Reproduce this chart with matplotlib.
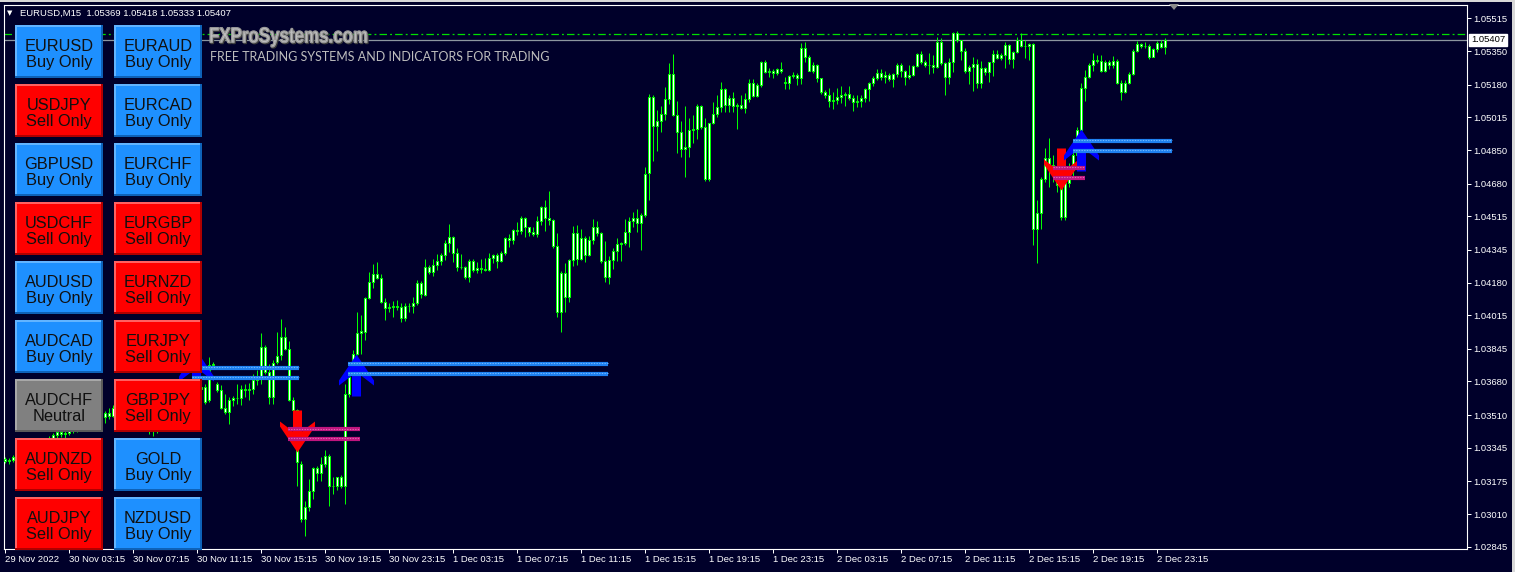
import numpy as np
import matplotlib.pyplot as plt
from matplotlib.patches import Rectangle, Polygon, PathPatch
from matplotlib.path import Path
from matplotlib.textpath import TextPath
from matplotlib.font_manager import FontProperties
from matplotlib.transforms import Affine2D

plt.rcParams['font.family'] = ['Liberation Sans', 'DejaVu Sans']

# EURUSD M15, bar 0 = 29 Nov 2022 23:15
opens = [
    1.03290, 1.03280, 1.03285, 1.03300, 1.03320, 1.03335, 1.03320, 1.03330, 1.03355, 1.03370,
    1.03360, 1.03380, 1.03395, 1.03410, 1.03425, 1.03415, 1.03420, 1.03440, 1.03430, 1.03460,
    1.03480, 1.03470, 1.03500, 1.03490, 1.03510, 1.03500, 1.03520, 1.03505, 1.03545, 1.03530,
    1.03515, 1.03525, 1.03500, 1.03485, 1.03470, 1.03455, 1.03445, 1.03430, 1.03440, 1.03460,
    1.03475, 1.03500, 1.03520, 1.03540, 1.03555, 1.03575, 1.03590, 1.03605, 1.03620, 1.03640,
    1.03652, 1.03585, 1.03762, 1.03669, 1.03635, 1.03547, 1.03525, 1.03588, 1.03595, 1.03598,
    1.03644, 1.03637, 1.03640, 1.03686, 1.03694, 1.03855, 1.03728, 1.03601, 1.03779, 1.03813,
    1.03906, 1.03846, 1.03585, 1.03534, 1.03263, 1.02985, 1.03047, 1.03128, 1.03243, 1.03220,
    1.03263, 1.03301, 1.03154, 1.03150, 1.03196, 1.03152, 1.03618, 1.03703, 1.03821, 1.03923,
    1.03931, 1.04100, 1.04181, 1.04223, 1.04203, 1.04080, 1.04051, 1.04056, 1.04064, 1.04058,
    1.03999, 1.04061, 1.04064, 1.04075, 1.04179, 1.04117, 1.04257, 1.04234, 1.04267, 1.04288,
    1.04318, 1.04378, 1.04409, 1.04331, 1.04261, 1.04261, 1.04210, 1.04289, 1.04244, 1.04255,
    1.04247, 1.04244, 1.04303, 1.04318, 1.04291, 1.04328, 1.04405, 1.04395, 1.04444, 1.04441,
    1.04505, 1.04459, 1.04436, 1.04426, 1.04490, 1.04562, 1.04506, 1.04495, 1.04367, 1.04033,
    1.04227, 1.04105, 1.04294, 1.04429, 1.04299, 1.04404, 1.04320, 1.04394, 1.04459, 1.04429,
    1.04289, 1.04210, 1.04294, 1.04340, 1.04373, 1.04380, 1.04434, 1.04490, 1.04505, 1.04480,
    1.04520, 1.04732, 1.05117, 1.04973, 1.04999, 1.05031, 1.05106, 1.05233, 1.05027, 1.04943,
    1.04854, 1.04867, 1.04951, 1.04955, 1.05074, 1.04968, 1.04702, 1.04985, 1.05031, 1.05066,
    1.05157, 1.05079, 1.05111, 1.05074, 1.05078, 1.05064, 1.05106, 1.05187, 1.05125, 1.05179,
    1.05293, 1.05246, 1.05248, 1.05239, 1.05260, 1.05196, 1.05191, 1.05224, 1.05229, 1.05213,
    1.05364, 1.05322, 1.05251, 1.05280, 1.05213, 1.05145, 1.05127, 1.05098, 1.05103, 1.05118,
    1.05127, 1.05132, 1.05115, 1.05095, 1.05096, 1.05111, 1.05157, 1.05187, 1.05213, 1.05240,
    1.05218, 1.05228, 1.05208, 1.05235, 1.05278, 1.05248, 1.05221, 1.05231, 1.05275, 1.05336,
    1.05293, 1.05278, 1.05280, 1.05272, 1.05395, 1.05288, 1.05221, 1.05297, 1.05443, 1.05406,
    1.05352, 1.05251, 1.05268, 1.05283, 1.05191, 1.05263, 1.05243, 1.05293, 1.05336, 1.05317,
    1.05329, 1.05379, 1.05309, 1.05346, 1.05406, 1.05376, 1.05374, 1.05384, 1.04449, 1.04530,
    1.04702, 1.04808, 1.04774, 1.04753, 1.04673, 1.04513, 1.04682, 1.04749, 1.04825, 1.04951,
    1.05162, 1.05221, 1.05278, 1.05304, 1.05302, 1.05251, 1.05295, 1.05282, 1.05302, 1.05191,
    1.05145, 1.05187, 1.05233, 1.05352, 1.05384, 1.05374, 1.05378, 1.05322, 1.05359, 1.05393,
    1.05369,
]
highs = [
    1.03300, 1.03295, 1.03310, 1.03330, 1.03345, 1.03350, 1.03340, 1.03365, 1.03380, 1.03390,
    1.03385, 1.03405, 1.03420, 1.03440, 1.03445, 1.03435, 1.03450, 1.03460, 1.03470, 1.03490,
    1.03500, 1.03510, 1.03525, 1.03520, 1.03535, 1.03530, 1.03545, 1.03560, 1.03570, 1.03550,
    1.03540, 1.03545, 1.03520, 1.03505, 1.03490, 1.03475, 1.03465, 1.03450, 1.03470, 1.03490,
    1.03510, 1.03530, 1.03555, 1.03570, 1.03590, 1.03610, 1.03625, 1.03640, 1.03660, 1.03670,
    1.03669, 1.03804, 1.03779, 1.03677, 1.03661, 1.03615, 1.03601, 1.03605, 1.03669, 1.03661,
    1.03669, 1.03672, 1.03720, 1.03737, 1.03923, 1.03863, 1.03770, 1.03787, 1.03931, 1.03994,
    1.03953, 1.03885, 1.03601, 1.03540, 1.03280, 1.03078, 1.03187, 1.03250, 1.03255, 1.03297,
    1.03334, 1.03311, 1.03196, 1.03199, 1.03206, 1.03669, 1.03753, 1.03838, 1.04032, 1.04016,
    1.04108, 1.04235, 1.04274, 1.04286, 1.04223, 1.04100, 1.04075, 1.04088, 1.04092, 1.04075,
    1.04075, 1.04078, 1.04108, 1.04193, 1.04190, 1.04299, 1.04269, 1.04299, 1.04325, 1.04331,
    1.04395, 1.04476, 1.04416, 1.04353, 1.04325, 1.04264, 1.04298, 1.04298, 1.04286, 1.04298,
    1.04303, 1.04328, 1.04325, 1.04328, 1.04341, 1.04412, 1.04426, 1.04449, 1.04488, 1.04517,
    1.04510, 1.04463, 1.04463, 1.04517, 1.04569, 1.04598, 1.04645, 1.04500, 1.04429, 1.04240,
    1.04281, 1.04298, 1.04466, 1.04471, 1.04449, 1.04416, 1.04416, 1.04500, 1.04493, 1.04437,
    1.04390, 1.04314, 1.04353, 1.04404, 1.04387, 1.04500, 1.04510, 1.04539, 1.04550, 1.04530,
    1.04766, 1.05133, 1.05128, 1.05053, 1.05073, 1.05167, 1.05292, 1.05336, 1.05098, 1.04997,
    1.05073, 1.05010, 1.05027, 1.05083, 1.05079, 1.05010, 1.04988, 1.05095, 1.05128, 1.05196,
    1.05162, 1.05128, 1.05145, 1.05090, 1.05128, 1.05140, 1.05207, 1.05207, 1.05187, 1.05302,
    1.05305, 1.05263, 1.05260, 1.05265, 1.05293, 1.05221, 1.05229, 1.05246, 1.05241, 1.05390,
    1.05395, 1.05331, 1.05297, 1.05285, 1.05215, 1.05154, 1.05162, 1.05145, 1.05165, 1.05174,
    1.05142, 1.05174, 1.05128, 1.05128, 1.05128, 1.05162, 1.05196, 1.05226, 1.05258, 1.05258,
    1.05251, 1.05238, 1.05241, 1.05289, 1.05289, 1.05255, 1.05280, 1.05280, 1.05339, 1.05352,
    1.05305, 1.05339, 1.05331, 1.05423, 1.05415, 1.05297, 1.05314, 1.05449, 1.05452, 1.05408,
    1.05364, 1.05280, 1.05319, 1.05310, 1.05302, 1.05272, 1.05297, 1.05356, 1.05356, 1.05342,
    1.05395, 1.05386, 1.05352, 1.05423, 1.05443, 1.05406, 1.05393, 1.05390, 1.04598, 1.04716,
    1.04859, 1.04909, 1.04825, 1.04791, 1.04749, 1.04800, 1.04783, 1.04842, 1.04968, 1.05187,
    1.05255, 1.05292, 1.05342, 1.05331, 1.05331, 1.05305, 1.05305, 1.05325, 1.05309, 1.05204,
    1.05204, 1.05246, 1.05359, 1.05403, 1.05390, 1.05398, 1.05385, 1.05364, 1.05403, 1.05406,
    1.05418,
]
lows = [
    1.03270, 1.03265, 1.03275, 1.03290, 1.03305, 1.03310, 1.03300, 1.03320, 1.03340, 1.03350,
    1.03345, 1.03365, 1.03380, 1.03395, 1.03400, 1.03395, 1.03410, 1.03420, 1.03425, 1.03445,
    1.03460, 1.03465, 1.03480, 1.03475, 1.03495, 1.03470, 1.03490, 1.03500, 1.03520, 1.03505,
    1.03495, 1.03490, 1.03475, 1.03460, 1.03445, 1.03430, 1.03415, 1.03405, 1.03420, 1.03440,
    1.03460, 1.03485, 1.03505, 1.03520, 1.03535, 1.03555, 1.03570, 1.03580, 1.03600, 1.03620,
    1.03568, 1.03576, 1.03750, 1.03627, 1.03542, 1.03517, 1.03466, 1.03554, 1.03564, 1.03559,
    1.03601, 1.03585, 1.03618, 1.03661, 1.03669, 1.03720, 1.03568, 1.03568, 1.03770, 1.03787,
    1.03838, 1.03581, 1.03517, 1.03154, 1.02968, 1.02900, 1.03027, 1.03086, 1.03179, 1.03179,
    1.03247, 1.03052, 1.03111, 1.03132, 1.03142, 1.03061, 1.03601, 1.03686, 1.03813, 1.03821,
    1.03892, 1.04095, 1.04151, 1.04196, 1.04075, 1.03990, 1.04032, 1.04007, 1.04041, 1.03982,
    1.03987, 1.04032, 1.04024, 1.04066, 1.04100, 1.04114, 1.04223, 1.04213, 1.04244, 1.04269,
    1.04294, 1.04336, 1.04286, 1.04240, 1.04247, 1.04198, 1.04185, 1.04235, 1.04230, 1.04230,
    1.04240, 1.04240, 1.04281, 1.04252, 1.04283, 1.04319, 1.04362, 1.04375, 1.04421, 1.04426,
    1.04409, 1.04416, 1.04416, 1.04412, 1.04471, 1.04443, 1.04471, 1.04353, 1.04008, 1.03932,
    1.04033, 1.04084, 1.04264, 1.04269, 1.04294, 1.04286, 1.04315, 1.04375, 1.04416, 1.04277,
    1.04185, 1.04173, 1.04247, 1.04289, 1.04289, 1.04370, 1.04362, 1.04463, 1.04437, 1.04345,
    1.04511, 1.04598, 1.04797, 1.04847, 1.04943, 1.05002, 1.05083, 1.05024, 1.04837, 1.04817,
    1.04712, 1.04817, 1.04887, 1.04904, 1.04955, 1.04695, 1.04695, 1.04980, 1.05019, 1.05044,
    1.05044, 1.05044, 1.05044, 1.04955, 1.05059, 1.05036, 1.05095, 1.05120, 1.05120, 1.05170,
    1.05238, 1.05221, 1.05216, 1.05229, 1.05241, 1.05159, 1.05157, 1.05212, 1.05179, 1.05184,
    1.05297, 1.05250, 1.05238, 1.05196, 1.05133, 1.05111, 1.05069, 1.05059, 1.05083, 1.05086,
    1.05073, 1.05103, 1.05049, 1.05066, 1.05066, 1.05095, 1.05100, 1.05174, 1.05204, 1.05204,
    1.05187, 1.05201, 1.05167, 1.05221, 1.05221, 1.05179, 1.05211, 1.05224, 1.05268, 1.05285,
    1.05271, 1.05234, 1.05241, 1.05263, 1.05280, 1.05128, 1.05184, 1.05246, 1.05398, 1.05305,
    1.05238, 1.05184, 1.05150, 1.05162, 1.05162, 1.05229, 1.05196, 1.05226, 1.05309, 1.05305,
    1.05263, 1.05285, 1.05263, 1.05342, 1.05369, 1.05314, 1.05305, 1.04370, 1.04281, 1.04449,
    1.04690, 1.04665, 1.04690, 1.04640, 1.04497, 1.04494, 1.04665, 1.04707, 1.04817, 1.04947,
    1.05100, 1.05212, 1.05251, 1.05288, 1.05246, 1.05246, 1.05258, 1.05263, 1.05184, 1.05103,
    1.05137, 1.05184, 1.05229, 1.05347, 1.05364, 1.05364, 1.05309, 1.05319, 1.05347, 1.05364,
    1.05333,
]
closes = [
    1.03280, 1.03285, 1.03300, 1.03320, 1.03335, 1.03320, 1.03330, 1.03355, 1.03370, 1.03360,
    1.03380, 1.03395, 1.03410, 1.03425, 1.03415, 1.03420, 1.03440, 1.03430, 1.03460, 1.03480,
    1.03470, 1.03500, 1.03490, 1.03510, 1.03500, 1.03520, 1.03505, 1.03545, 1.03530, 1.03515,
    1.03525, 1.03500, 1.03485, 1.03470, 1.03455, 1.03445, 1.03430, 1.03440, 1.03460, 1.03475,
    1.03500, 1.03520, 1.03540, 1.03555, 1.03575, 1.03590, 1.03605, 1.03620, 1.03640, 1.03652,
    1.03576, 1.03762, 1.03770, 1.03635, 1.03547, 1.03525, 1.03588, 1.03595, 1.03598, 1.03644,
    1.03637, 1.03640, 1.03686, 1.03703, 1.03852, 1.03728, 1.03601, 1.03774, 1.03809, 1.03906,
    1.03846, 1.03585, 1.03534, 1.03272, 1.02985, 1.03047, 1.03128, 1.03243, 1.03220, 1.03263,
    1.03301, 1.03154, 1.03150, 1.03196, 1.03152, 1.03618, 1.03703, 1.03821, 1.03923, 1.03936,
    1.04100, 1.04181, 1.04223, 1.04203, 1.04080, 1.04051, 1.04056, 1.04064, 1.04058, 1.03999,
    1.04061, 1.04064, 1.04075, 1.04179, 1.04120, 1.04257, 1.04234, 1.04267, 1.04288, 1.04318,
    1.04378, 1.04409, 1.04331, 1.04261, 1.04261, 1.04210, 1.04289, 1.04244, 1.04255, 1.04247,
    1.04244, 1.04303, 1.04318, 1.04291, 1.04328, 1.04405, 1.04395, 1.04444, 1.04441, 1.04505,
    1.04459, 1.04436, 1.04426, 1.04490, 1.04562, 1.04506, 1.04495, 1.04367, 1.04033, 1.04227,
    1.04105, 1.04294, 1.04429, 1.04299, 1.04404, 1.04320, 1.04394, 1.04459, 1.04429, 1.04289,
    1.04210, 1.04294, 1.04340, 1.04373, 1.04380, 1.04434, 1.04490, 1.04505, 1.04480, 1.04520,
    1.04729, 1.05117, 1.04973, 1.04999, 1.05031, 1.05106, 1.05233, 1.05027, 1.04943, 1.04854,
    1.04867, 1.04951, 1.04955, 1.05074, 1.04968, 1.04702, 1.04985, 1.05031, 1.05066, 1.05157,
    1.05079, 1.05111, 1.05074, 1.05078, 1.05064, 1.05106, 1.05187, 1.05125, 1.05179, 1.05293,
    1.05246, 1.05248, 1.05239, 1.05260, 1.05248, 1.05191, 1.05224, 1.05229, 1.05213, 1.05364,
    1.05322, 1.05251, 1.05280, 1.05213, 1.05145, 1.05127, 1.05098, 1.05103, 1.05118, 1.05127,
    1.05132, 1.05115, 1.05095, 1.05096, 1.05111, 1.05157, 1.05187, 1.05213, 1.05240, 1.05218,
    1.05228, 1.05208, 1.05235, 1.05278, 1.05248, 1.05221, 1.05231, 1.05275, 1.05336, 1.05293,
    1.05278, 1.05280, 1.05272, 1.05395, 1.05288, 1.05221, 1.05297, 1.05443, 1.05406, 1.05352,
    1.05251, 1.05268, 1.05283, 1.05191, 1.05263, 1.05243, 1.05293, 1.05336, 1.05317, 1.05329,
    1.05379, 1.05309, 1.05346, 1.05406, 1.05376, 1.05374, 1.05384, 1.04449, 1.04530, 1.04702,
    1.04808, 1.04774, 1.04753, 1.04673, 1.04513, 1.04682, 1.04749, 1.04825, 1.04951, 1.05162,
    1.05221, 1.05278, 1.05304, 1.05302, 1.05251, 1.05295, 1.05282, 1.05302, 1.05191, 1.05145,
    1.05187, 1.05233, 1.05352, 1.05384, 1.05374, 1.05378, 1.05322, 1.05359, 1.05393, 1.05369,
    1.05407,
]

tick_labels = ["29 Nov 2022", "30 Nov 03:15", "30 Nov 07:15", "30 Nov 11:15", "30 Nov 15:15",
               "30 Nov 19:15", "30 Nov 23:15", "1 Dec 03:15", "1 Dec 07:15", "1 Dec 11:15",
               "1 Dec 15:15", "1 Dec 19:15", "1 Dec 23:15", "2 Dec 03:15", "2 Dec 07:15",
               "2 Dec 11:15", "2 Dec 15:15", "2 Dec 19:15", "2 Dec 23:15"]
price_ticks = [1.05515, 1.05350, 1.05180, 1.05015, 1.04850, 1.04680, 1.04515, 1.04345, 1.04180,
               1.04015, 1.03845, 1.03680, 1.03510, 1.03345, 1.03175, 1.03010, 1.02845]
last_price = 1.05407
level_line = 1.05437

# signal arrows: bar, price of tip, direction
sig_bar = [47.8, 73.0, 87.8, 264.0, 269.0]
sig_price = [1.03840, 1.03325, 1.03819, 1.04648, 1.04956]
sig_dir = ["buy", "sell", "buy", "sell", "buy"]

# zig-zag level lines: start bar, end bar, upper price, lower price, side
lvl_start = [46.7, 70.8, 85.9, 262.1, 267.1]
lvl_end = [73.6, 88.8, 150.9, 270.0, 291.9]
lvl_hi = [1.03750, 1.03438, 1.03767, 1.04761, 1.04898]
lvl_lo = [1.03699, 1.03388, 1.03717, 1.04710, 1.04847]
lvl_side = ["buy", "sell", "buy", "sell", "buy"]

# panel buttons
btn_col1 = ["EURUSD", "USDJPY", "GBPUSD", "USDCHF", "AUDUSD", "AUDCAD", "AUDCHF", "AUDNZD", "AUDJPY"]
btn_col1_state = ["Buy Only", "Sell Only", "Buy Only", "Sell Only", "Buy Only", "Buy Only",
                  "Neutral", "Sell Only", "Sell Only"]
btn_col2 = ["EURAUD", "EURCAD", "EURCHF", "EURGBP", "EURNZD", "EURJPY", "GBPJPY", "GOLD", "NZDUSD"]
btn_col2_state = ["Buy Only", "Buy Only", "Buy Only", "Sell Only", "Sell Only", "Sell Only",
                  "Sell Only", "Buy Only", "Buy Only"]

BG = '#00002A'
GREEN = '#00FF00'
W, H = 1515, 572

fig = plt.figure(figsize=(W / 100, H / 100), dpi=100, facecolor=BG)
ax = fig.add_axes([4 / W, (H - 549) / H, 1463 / W, (549 - 4.6) / H])
ax.set_facecolor(BG)

o = np.array(opens)
h = np.array(highs)
l = np.array(lows)
c = np.array(closes)
x = np.arange(len(c))

ax.vlines(x, l, h, color=GREEN, lw=0.72, zorder=2)
ax.bar(x, np.abs(c - o), bottom=np.minimum(o, c), width=0.5, color='white',
       edgecolor=GREEN, linewidth=0.72, zorder=3)

ax.axhline(last_price, color='#8C96A0', lw=0.9, zorder=1)
ax.axhline(level_line, color='#00E000', lw=0.9, dashes=(6, 2.5, 1.5, 2.5), zorder=1)

# level lines
for s, e, hi, lo, side in zip(lvl_start, lvl_end, lvl_hi, lvl_lo, lvl_side):
    col = '#1E80F0' if side == "buy" else '#C0157F'
    lite = '#70B8FF' if side == "buy" else '#E266B0'
    ax.hlines([hi, lo], s, e, color=col, lw=3.0, zorder=5)
    ax.hlines([hi + 0.00004, lo + 0.00004], s, e, color=lite, lw=0.8,
              linestyles=(0, (1.2, 1.2)), zorder=6)

# arrow markers, tip at the signal price
up = [(0, 0), (17.5, -26), (17.5, -31), (4.5, -21), (4.5, -42), (-4.5, -42), (-4.5, -21),
      (-17.5, -31), (-17.5, -26), (0, 0)]
up_path = Path(up, closed=True)
down_path = Path([(vx, -vy) for vx, vy in up], closed=True)
for b, p, d in zip(sig_bar, sig_price, sig_dir):
    if d == "buy":
        ax.plot(b, p, marker=up_path, ms=60.5, color='#0000FF', mec='none', zorder=4)
    else:
        ax.plot(b, p, marker=down_path, ms=60.5, color='#FF0000', mec='none', zorder=4)

ax.set_xlim(-0.2, 365.55)
ax.set_ylim(1.028333, 1.055852)

ax.set_xticks(np.arange(len(tick_labels)) * 16)
ax.set_xticklabels(tick_labels)
for t in ax.get_xticklabels():
    t.set_horizontalalignment('left')
ax.yaxis.tick_right()
ax.set_yticks(price_ticks)
ax.set_yticklabels(['%.5f' % v for v in price_ticks])
ax.tick_params(axis='both', colors='white', labelsize=6.8, length=3, width=0.72)
ax.tick_params(axis='x', pad=1.5)
ax.tick_params(axis='y', pad=1.5)
for sp in ax.spines.values():
    sp.set_color('white')
    sp.set_linewidth(0.8)

ax.annotate('%.5f' % last_price, xy=(1.0, last_price), xycoords=('axes fraction', 'data'),
            xytext=(3, 0), textcoords='offset points', ha='left', va='center',
            fontsize=6.8, color='black',
            bbox=dict(boxstyle='square,pad=0.18', fc='white', ec='white'))


def fx(px):
    return px / W


def fy(py):
    return 1 - py / H


# header
fig.text(fx(7), fy(13), '\u25bc', color='white', fontsize=5, va='center',
         family=['DejaVu Sans'])
fig.text(fx(20), fy(13.5), 'EURUSD,M15  1.05369 1.05418 1.05333 1.05407', color='white',
         fontsize=6.8, va='center')

# watermark, squeezed into a condensed bold shape
tp = TextPath((0, 0), 'FXProSystems.com', size=1,
              prop=FontProperties(family='Liberation Sans', weight='bold'))
ext = tp.get_extents()
sx = 157 / ext.width
sy = 15.5 / 0.72
wm = Affine2D().translate(-ext.x0, 0).scale(sx, sy).translate(210, H - 42.5)
fig.add_artist(PathPatch(tp, transform=wm + Affine2D().translate(1, -1), fc='#3A3A3A',
                         ec='#3A3A3A', lw=1.0, zorder=3))
fig.add_artist(PathPatch(tp, transform=wm, fc='#BEBEBE', ec='#9A9A9A', lw=0.9, zorder=3))
fig.text(fx(209.5), fy(61.4), 'FREE TRADING SYSTEMS AND INDICATORS FOR TRADING',
         color='#BDBDBD', fontsize=9.0, family=['Lato', 'DejaVu Sans'], weight='normal',
         va='baseline')

# chart shift marker
fig.add_artist(Polygon([(fx(1169), fy(4)), (fx(1179), fy(4)), (fx(1174), fy(10))],
                       closed=True, transform=fig.transFigure, fc='#8C8C8C', ec='none'))

# buttons
styles = {
    "Buy Only": ('#1E90FF', '#62B4FF', '#0E62B8'),
    "Sell Only": ('#FF0000', '#FF6060', '#B00000'),
    "Neutral": ('#808080', '#A8A8A8', '#5A5A5A'),
}
for left, names, states in [(15, btn_col1, btn_col1_state), (114, btn_col2, btn_col2_state)]:
    for i, (name, state) in enumerate(zip(names, states)):
        top = 25 + 59 * i
        bw, bh = 88, 53
        face, lite, dark = styles[state]
        fig.add_artist(Rectangle((fx(left), fy(top + bh)), bw / W, bh / H,
                                 transform=fig.transFigure, fc=dark, ec='none'))
        fig.add_artist(Rectangle((fx(left), fy(top + bh - 2)), (bw - 2) / W, (bh - 2) / H,
                                 transform=fig.transFigure, fc=lite, ec='none'))
        fig.add_artist(Rectangle((fx(left + 2), fy(top + bh - 2)), (bw - 4) / W, (bh - 4) / H,
                                 transform=fig.transFigure, fc=face, ec='none'))
        cx = left + bw / 2
        fig.text(fx(cx), fy(top + 26), name, ha='center', va='baseline', fontsize=11.8,
                 color='#101010')
        fig.text(fx(cx), fy(top + 42), state, ha='center', va='baseline', fontsize=11.8,
                 color='#101010')

# window frame
fig.add_artist(Rectangle((0, fy(2)), 1, 2 / H, transform=fig.transFigure, fc='#D8D8D8', ec='none'))
fig.add_artist(Rectangle((fx(1512), 0), 3 / W, 1, transform=fig.transFigure, fc='#D8D8D8', ec='none'))

fig.savefig('out.png', dpi=100, facecolor=BG)
